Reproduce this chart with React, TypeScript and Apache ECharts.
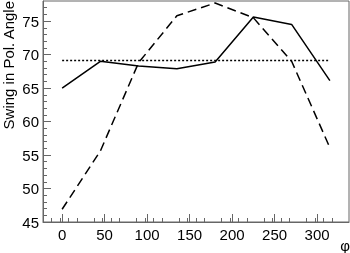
import React, { useEffect, useRef } from "react";
import * as echarts from "echarts";

const phi = [0, 45, 90, 135, 180, 225, 270, 315];
const solidSwing = [65.0, 69.0, 68.3, 67.9, 68.9, 75.6, 74.5, 66.1];
const dashedSwing = [46.9, 55.6, 68.8, 75.8, 77.7, 75.5, 69.0, 56.1];
const dottedPhi = [0, 315];
const dottedSwing = [69.1, 69.1];

const xMajorTicks = [0, 50, 100, 150, 200, 250, 300];
const yMajorTicks = [45, 50, 55, 60, 65, 70, 75];

const yTitle = "Swing in Pol. Angle";
const xTitle = "φ";

const FONT = "Liberation Sans, Arial, Helvetica, sans-serif";
const AXIS_COLOR = "#666";

const W = 350;
const H = 253;

export default function App() {
  const ref = useRef<HTMLDivElement>(null);
  useEffect(() => {
    if (!ref.current) return;
    const chart = echarts.init(ref.current, null, { renderer: "svg" });
    const zip = (xs: number[], ys: number[]) => xs.map((x, i) => [x, ys[i]]);
    const xMin = -22.5;
    const xMax = 337.5;
    const yMin = 45;
    const yMax = 78;
    chart.setOption({
      animation: false,
      grid: {
        left: 43,
        right: 1,
        top: 1,
        bottom: 31,
        show: true,
        borderColor: AXIS_COLOR,
        borderWidth: 1,
      },
      xAxis: {
        type: "value",
        min: xMin,
        max: xMax,
        interval: 50,
        position: "bottom",
        axisLine: { show: true, onZero: false, lineStyle: { color: AXIS_COLOR, width: 1 } },
        axisTick: { show: true, inside: true, length: 8, customValues: xMajorTicks, lineStyle: { color: AXIS_COLOR, width: 1 } },
        minorTick: { show: true, splitNumber: 5, length: 4, lineStyle: { color: AXIS_COLOR, width: 1 } },
        axisLabel: { show: true, customValues: xMajorTicks, color: "#000", fontSize: 15, fontFamily: FONT, margin: 5 },
        splitLine: { show: false },
      },
      yAxis: {
        type: "value",
        min: yMin,
        max: yMax,
        interval: 5,
        position: "left",
        axisLine: { show: true, onZero: false, lineStyle: { color: AXIS_COLOR, width: 1 } },
        axisTick: { show: true, inside: true, length: 8, customValues: yMajorTicks, lineStyle: { color: AXIS_COLOR, width: 1 } },
        minorTick: { show: true, splitNumber: 5, length: 4, lineStyle: { color: AXIS_COLOR, width: 1 } },
        axisLabel: { show: true, customValues: yMajorTicks, color: "#000", fontSize: 15, fontFamily: FONT, margin: 4 },
        splitLine: { show: false },
      },
      graphic: [
        {
          type: "text",
          x: 8,
          y: 1,
          rotation: Math.PI / 2,
          style: {
            text: yTitle,
            font: `15px ${FONT}`,
            fill: "#000",
            align: "right",
            verticalAlign: "middle",
          },
        },
        {
          type: "text",
          x: 350,
          y: 245,
          style: {
            text: xTitle,
            font: `15px ${FONT}`,
            fill: "#000",
            align: "right",
            verticalAlign: "middle",
          },
        },
      ],
      series: [
        {
          type: "line",
          data: zip(dottedPhi, dottedSwing),
          symbol: "none",
          lineStyle: { color: "#000", width: 1.5, type: [2, 2] },
          silent: true,
        },
        {
          type: "line",
          data: zip(phi, dashedSwing),
          symbol: "none",
          lineStyle: { color: "#000", width: 1.5, type: [9, 5] },
          silent: true,
        },
        {
          type: "line",
          data: zip(phi, solidSwing),
          symbol: "none",
          lineStyle: { color: "#000", width: 1.5 },
          silent: true,
        },
      ],
    });
    return () => chart.dispose();
  }, []);
  return (
    <div
      ref={ref}
      style={{ position: "fixed", left: 0, top: 0, width: W, height: H }}
    />
  );
}
